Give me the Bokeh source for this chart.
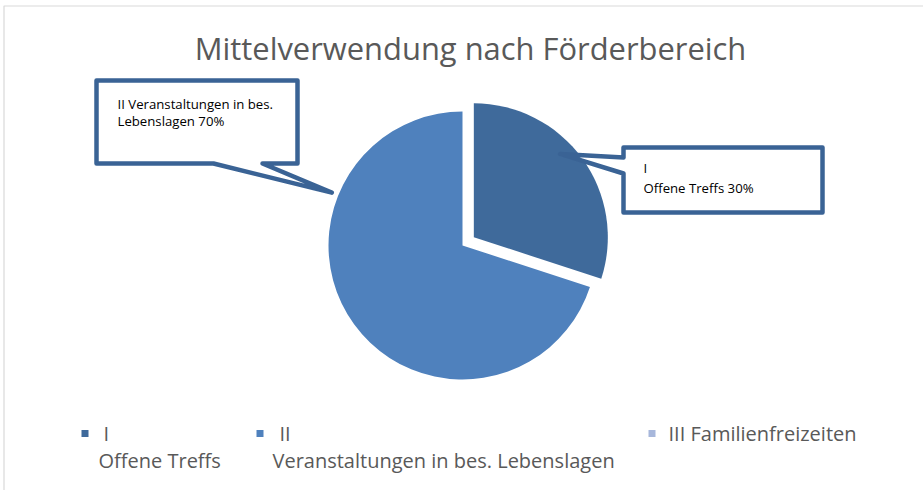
import numpy as np
from bokeh.plotting import figure
from bokeh.models import Range1d, ColumnDataSource
from bokeh.core.properties import value
from bokeh.embed import file_html
from bokeh.resources import INLINE

# ---- data ----
title = "Mittelverwendung nach Förderbereich"
categories = ["I\nOffene Treffs", "II\nVeranstaltungen in bes. Lebenslagen", "III Familienfreizeiten"]
shares = [30, 70, 0]
callout_texts = ["I\nOffene Treffs 30%", "II Veranstaltungen in bes.\nLebenslagen 70%"]

# ---- style ----
W, H = 923, 490
FONT = "Open Sans"
colors = ["#3F6A9B", "#4F81BD", "#A7B7DB"]
explode = [14, 0, 0]
cx, cy_s, R = 462, 245, 134
GREY = "#595959"
CALL = "#3A6395"

def Y(s):
    return H - s

p = figure(width=W, height=H, x_range=Range1d(0, W), y_range=Range1d(0, H),
           output_backend="svg", toolbar_location=None, min_border=0,
           x_axis_location=None, y_axis_location=None, outline_line_color=None)
p.grid.visible = False
p.background_fill_color = "white"

# chart border
p.quad(left=3.5, right=W + 20, top=Y(5.5), bottom=-20, fill_alpha=0,
       line_color="#D9D9D9", line_width=1.2)

# ---- pie (clockwise from 12 o'clock) ----
vals = np.array(shares, dtype=float)
frac = vals / vals.sum()
ends = np.pi / 2 - 2 * np.pi * np.cumsum(frac)
starts = np.concatenate([[np.pi / 2], ends[:-1]])
mids = (starts + ends) / 2
xs = cx + np.array(explode) * np.cos(mids)
ys = Y(cy_s) + np.array(explode) * np.sin(mids)
keep = vals > 0
src = ColumnDataSource(dict(x=xs[keep], y=ys[keep], s=ends[keep], e=starts[keep],
                            c=[c for c, k in zip(colors, keep) if k]))
p.wedge(x="x", y="y", radius=R, start_angle="s", end_angle="e",
        fill_color="c", line_color=None, source=src)

# ---- callouts ----
def polar(i, ang_deg, dist):
    a = np.deg2rad(ang_deg)
    return xs[i] + dist * np.cos(a), ys[i] + dist * np.sin(a)

# callout for slice II (left)
tx, ty = polar(1, 158, 141)
b = dict(l=96, t=80, r=297, b=163)
px = [b["l"], b["r"], b["r"], 262, tx, 213, b["l"]]
py = [Y(b["t"]), Y(b["t"]), Y(b["b"]), Y(b["b"]), ty, Y(b["b"]), Y(b["b"])]
p.patch(px, py, fill_color="white", line_color=CALL, line_width=4.5, line_join="round")

# callout for slice I (right)
tx, ty = polar(0, 44, 120)
b = dict(l=623, t=147, r=822, b=212)
px = [b["l"], b["r"], b["r"], b["l"], b["l"], tx, b["l"]]
py = [Y(b["t"]), Y(b["t"]), Y(b["b"]), Y(b["b"]), Y(173), ty, Y(157)]
p.patch(px, py, fill_color="white", line_color=CALL, line_width=4.5, line_join="round")

c2 = callout_texts[1].split("\n")
c1 = callout_texts[0].split("\n")
p.text(x=[117, 117, 643, 643], y=[Y(103), Y(120), Y(167), Y(187)],
       text=c2 + c1, text_font=value(FONT), text_font_size="13.2px",
       text_color="#000000", text_baseline="middle", text_align="left")

# ---- title ----
p.text(x=[470], y=[Y(47)], text=[title], text_font=value(FONT),
       text_font_size="30.9px", text_color=GREY, text_align="center",
       text_baseline="middle")

# ---- legend ----
sq_x = [84.5, 259.5, 651.5]
p.scatter(x=sq_x, y=[Y(433)] * 3, marker="square", size=7,
          fill_color=colors, line_color=None)
first_x = [103, 279, 668]
second_x = [98, 272, 668]
lx, ly, lt = [], [], []
for i, cat in enumerate(categories):
    parts = cat.split("\n")
    lx.append(first_x[i]); ly.append(Y(433)); lt.append(parts[0])
    if len(parts) > 1:
        lx.append(second_x[i]); ly.append(Y(460)); lt.append(parts[1])
p.text(x=lx, y=ly, text=lt, text_font=value(FONT), text_font_size="20px",
       text_color=GREY, text_baseline="middle", text_align="left")

open("out.html", "w").write(file_html(p, INLINE))
